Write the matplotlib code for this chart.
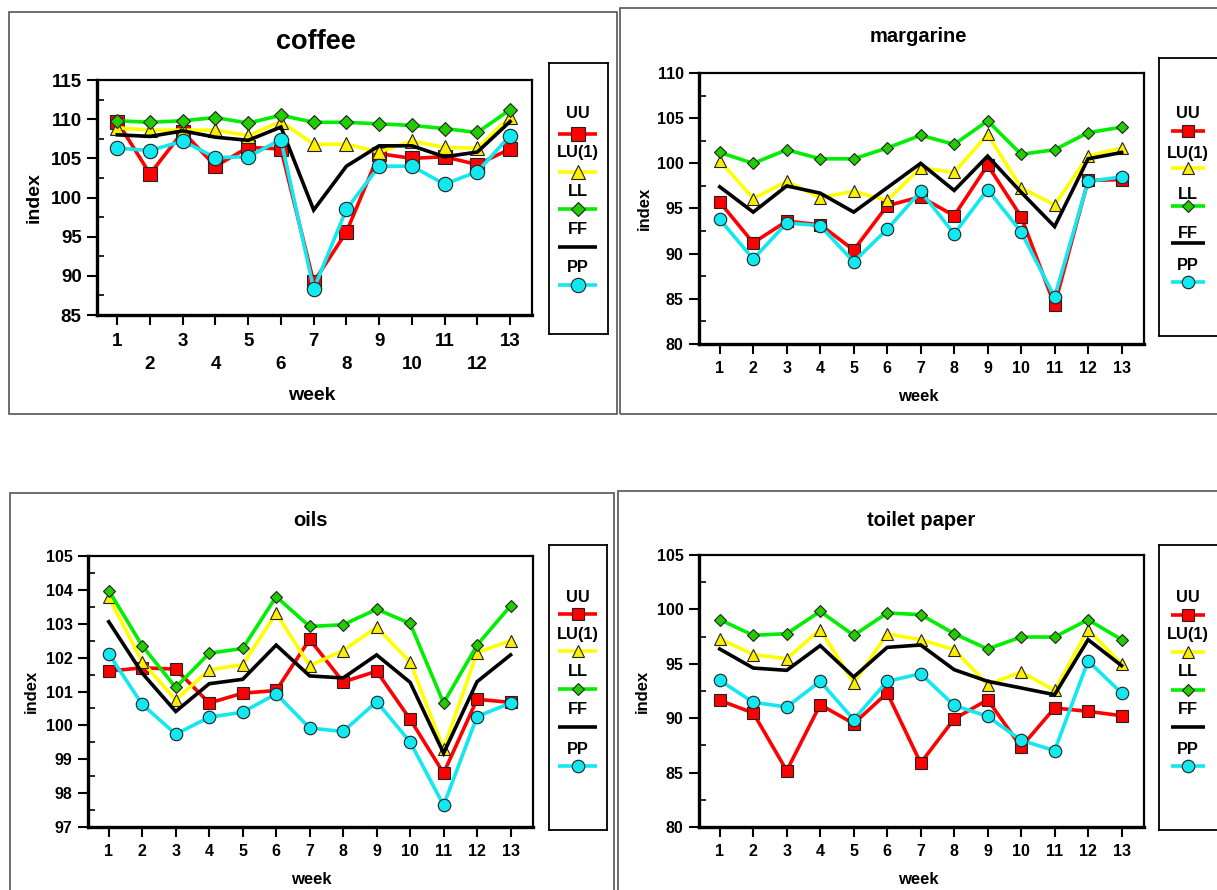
import matplotlib
matplotlib.use("Agg")
import matplotlib.pyplot as plt
from matplotlib.patches import Rectangle
from matplotlib.ticker import MultipleLocator

plt.rcParams['font.family'] = ['Liberation Sans', 'DejaVu Sans']
plt.rcParams['font.weight'] = 'bold'

weeks = list(range(1, 14))
week_labels = [str(w) for w in weeks]
series_names = ['UU', 'LU(1)', 'LL', 'FF', 'PP']

coffee_UU = [109.7, 103.0, 108.4, 104.0, 106.4, 106.2, 89.2, 95.6, 105.6, 105.0, 105.2, 104.2, 106.2]
coffee_LU = [108.9, 108.6, 108.6, 108.6, 107.9, 109.7, 106.8, 106.8, 105.8, 107.2, 106.4, 106.3, 110.3]
coffee_LL = [109.8, 109.6, 109.8, 110.2, 109.5, 110.5, 109.6, 109.6, 109.4, 109.2, 108.8, 108.3, 111.2]
coffee_FF = [108.0, 107.8, 108.5, 107.7, 107.3, 109.0, 98.4, 104.0, 106.6, 106.6, 105.2, 105.8, 109.7]
coffee_PP = [106.3, 106.0, 107.2, 105.1, 105.2, 107.4, 88.3, 98.5, 104.0, 104.0, 101.7, 103.3, 107.9]

marg_UU = [95.7, 91.2, 93.6, 93.2, 90.4, 95.3, 96.3, 94.2, 99.8, 94.1, 84.3, 98.1, 98.2]
marg_LU = [100.3, 96.1, 98.0, 96.2, 96.9, 95.9, 99.5, 99.0, 103.2, 97.3, 95.4, 100.8, 101.7]
marg_LL = [101.2, 100.0, 101.5, 100.5, 100.5, 101.7, 103.1, 102.1, 104.7, 101.0, 101.5, 103.4, 104.0]
marg_FF = [97.4, 94.6, 97.5, 96.7, 94.6, 97.3, 100.0, 97.0, 100.8, 96.8, 93.0, 100.5, 101.2]
marg_PP = [93.8, 89.4, 93.4, 93.1, 89.1, 92.7, 96.9, 92.2, 97.1, 92.4, 85.2, 98.0, 98.5]

oils_UU = [101.6, 101.7, 101.66, 100.66, 100.95, 101.03, 102.54, 101.28, 101.6, 100.18, 98.59, 100.77, 100.68]
oils_LU = [103.78, 101.88, 100.75, 101.64, 101.79, 103.31, 101.76, 102.21, 102.9, 101.87, 99.3, 102.15, 102.5]
oils_LL = [103.98, 102.35, 101.12, 102.13, 102.27, 103.8, 102.92, 102.97, 103.43, 103.01, 100.66, 102.37, 103.53]
oils_FF = [103.06, 101.54, 100.41, 101.23, 101.36, 102.37, 101.46, 101.4, 102.08, 101.27, 99.18, 101.29, 102.08]
oils_PP = [102.11, 100.62, 99.74, 100.24, 100.39, 100.93, 99.92, 99.82, 100.7, 99.51, 97.64, 100.26, 100.66]

tp_UU = [91.64, 90.48, 85.18, 91.24, 89.5, 92.32, 85.88, 89.93, 91.7, 87.35, 90.94, 90.63, 90.23]
tp_LU = [97.31, 95.84, 95.47, 98.14, 93.24, 97.74, 97.22, 96.3, 93.08, 94.25, 92.56, 98.14, 94.98]
tp_LL = [99.06, 97.62, 97.77, 99.82, 97.62, 99.67, 99.52, 97.77, 96.36, 97.46, 97.46, 99.06, 97.22]
tp_FF = [96.36, 94.61, 94.4, 96.67, 93.79, 96.51, 96.73, 94.46, 93.39, 92.78, 92.16, 97.22, 94.83]
tp_PP = [93.48, 91.46, 91.03, 93.39, 89.87, 93.39, 94.09, 91.18, 90.17, 87.97, 87.02, 95.26, 92.32]

W, H = 1217, 890
fig = plt.figure(figsize=(W / 100, H / 100), dpi=100)


def fx(x):
    return x / W


def fy(y):
    return 1 - y / H


def add_ax(l, t, r, b):
    return fig.add_axes([fx(l), fy(b), (r - l) / W, (b - t) / H])


STYLES = {
    'UU': dict(color='#ff0000', marker='s', mfc='#ff0000', ms=9.0),
    'LU(1)': dict(color='#ffff00', marker='^', mfc='#ffee00', ms=8.5),
    'LL': dict(color='#00ee00', marker='D', mfc='#22cc00', ms=6.0),
    'FF': dict(color='#000000', marker=None, mfc='none', ms=0),
    'PP': dict(color='#11e8f0', marker='o', mfc='#11e8f0', ms=9.0),
}

panels = [
    dict(title='coffee', data=[coffee_UU, coffee_LU, coffee_LL, coffee_FF, coffee_PP],
         ylim=(85, 115), major=5, minor=2.5, box=(97, 80, 532, 315), frame=(9, 12, 617, 414),
         legend=(549, 63, 608, 334), title_xy=(316, 42), title_fs=19.5, fs=13.5, lfs=14, scale=1.15,
         stagger=True, xlabel_xy=(312, 396), ylabel_xy=(34, 198),
         leg_items=[(113, 134), (153, 172), (192, 209), (229, 247), (267, 285)], leg_x=(558, 597)),
    dict(title='margarine', data=[marg_UU, marg_LU, marg_LL, marg_FF, marg_PP],
         ylim=(80, 110), major=5, minor=2.5, box=(699, 73, 1144, 344), frame=(620, 8, 1230, 414),
         legend=(1159, 58, 1240, 336), title_xy=(918, 37), title_fs=14.5, fs=11.5, lfs=12, scale=1.0,
         stagger=False, xlabel_xy=(918, 397), ylabel_xy=(644, 208),
         leg_items=[(113, 131), (153, 168), (194, 206), (233, 243), (265, 282)], leg_x=(1171, 1205)),
    dict(title='oils', data=[oils_UU, oils_LU, oils_LL, oils_FF, oils_PP],
         ylim=(97, 105), major=1, minor=0.5, box=(88, 556, 533, 827), frame=(10, 493, 614, 900),
         legend=(549, 545, 607, 830), title_xy=(311, 521), title_fs=14.5, fs=11.5, lfs=12, scale=1.0,
         stagger=False, xlabel_xy=(311, 880), ylabel_xy=(31, 691),
         leg_items=[(597, 614), (634, 651), (672, 689), (710, 727), (749, 766)], leg_x=(558, 597)),
    dict(title='toilet paper', data=[tp_UU, tp_LU, tp_LL, tp_FF, tp_PP],
         ylim=(80, 105), major=5, minor=2.5, box=(699, 555, 1144, 827), frame=(618, 491, 1230, 900),
         legend=(1159, 545, 1240, 830), title_xy=(921, 520), title_fs=14.5, fs=11.5, lfs=12, scale=1.0,
         stagger=False, xlabel_xy=(918, 880), ylabel_xy=(642, 691),
         leg_items=[(597, 615), (634, 652), (672, 690), (710, 727), (749, 766)], leg_x=(1171, 1205)),
]

for p in panels:
    # panel frame
    l, t, r, b = p['frame']
    fig.patches.append(Rectangle((fx(l), fy(b)), (r - l) / W, (b - t) / H, transform=fig.transFigure,
                                 fill=False, edgecolor='#555555', lw=1.2, zorder=0))

    ax = add_ax(*p['box'])
    sc = p['scale']
    for name, vals in zip(series_names, p['data']):
        st = STYLES[name]
        ax.plot(weeks, vals, color=st['color'], lw=2.6, marker=st['marker'],
                ms=st['ms'] * sc, mfc=st['mfc'], mec='#222222', mew=0.8, solid_joinstyle='miter')
    ax.set_xlim(0.38, 13.67)
    ax.set_ylim(*p['ylim'])
    ax.yaxis.set_major_locator(MultipleLocator(p['major']))
    ax.yaxis.set_minor_locator(MultipleLocator(p['minor']))
    ax.set_xticks(weeks)
    if p['stagger']:
        ax.set_xticklabels([lab if i % 2 == 0 else '\n' + lab for i, lab in enumerate(week_labels)],
                           linespacing=1.45)
    else:
        ax.set_xticklabels(week_labels)
    ax.tick_params(axis='both', which='major', direction='out', length=7, width=1.5,
                   labelsize=p['fs'])
    ax.tick_params(axis='x', pad=6 if p['stagger'] else 5)
    ax.tick_params(axis='y', pad=4)
    ax.tick_params(axis='y', which='minor', direction='in', length=5, width=1.2)
    for lab in ax.get_xticklabels() + ax.get_yticklabels():
        lab.set_fontweight('bold')
    ax.spines['left'].set_linewidth(2.4)
    ax.spines['bottom'].set_linewidth(2.4)
    ax.spines['top'].set_linewidth(1.6)
    ax.spines['right'].set_linewidth(1.6)

    fig.text(fx(p['title_xy'][0]), fy(p['title_xy'][1]), p['title'], ha='center', va='center',
             fontsize=p['title_fs'], fontweight='bold')
    fig.text(fx(p['xlabel_xy'][0]), fy(p['xlabel_xy'][1]), 'week', ha='center', va='center',
             fontsize=p['lfs'], fontweight='bold')
    fig.text(fx(p['ylabel_xy'][0]), fy(p['ylabel_xy'][1]), 'index', ha='center', va='center',
             rotation=90, fontsize=p['lfs'], fontweight='bold')

    # legend box
    ll, lt, lr, lb = p['legend']
    lax = add_ax(ll, lt, lr, lb)
    lax.set_xlim(ll, lr)
    lax.set_ylim(lb, lt)
    lax.set_xticks([])
    lax.set_yticks([])
    for s in lax.spines.values():
        s.set_linewidth(1.3)
    x1, x2 = p['leg_x']
    xc = (x1 + x2) / 2
    for name, (ty, ly) in zip(series_names, p['leg_items']):
        st = STYLES[name]
        lax.text(xc, ty, name, ha='center', va='center', fontsize=11.8, fontweight='bold')
        lax.plot([x1, x2], [ly, ly], color=st['color'], lw=2.6, solid_capstyle='butt')
        if st['marker']:
            lax.plot([xc], [ly], marker=st['marker'], ms=st['ms'] * sc, mfc=st['mfc'],
                     mec='#222222', mew=0.8, ls='none')

fig.savefig('out.png', dpi=100)
